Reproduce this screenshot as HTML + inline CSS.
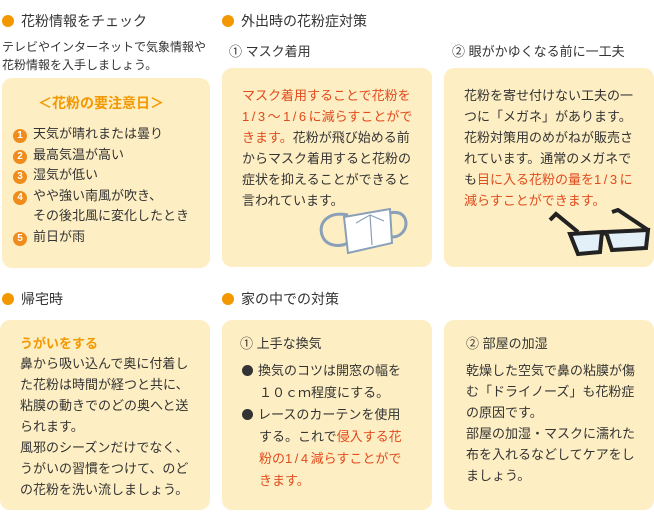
<!DOCTYPE html>
<html><head><meta charset="utf-8"><style>
*{margin:0;padding:0;box-sizing:border-box}
body{width:654px;height:520px;background:#fff;position:relative;overflow:hidden;font-family:"Liberation Sans","Noto Sans CJK JP",sans-serif;color:#333;font-size:13px}
.a{position:absolute;white-space:nowrap}
.box{position:absolute;background:#fdeec3;border-radius:10px}
.h{font-size:14px;color:#333}
.h:before{content:"";display:inline-block;width:12px;height:12px;border-radius:50%;background:#f39800;margin-right:7px;vertical-align:-1px}
.r{color:#e24a1c}
.o{color:#f39800;font-weight:bold}
.lh{line-height:21px}
.w{letter-spacing:2.5px}
.n{display:inline-block;width:14px;height:14px;border-radius:50%;background:#f08c1c;color:#fff;font-size:10px;font-weight:bold;text-align:center;line-height:14px;margin-right:6px;vertical-align:0px}
.dot{display:inline-block;width:11px;height:11px;border-radius:50%;background:#333;margin-right:5px;vertical-align:-1px}
</style></head><body>
<div class="a h" style="left:2px;top:11px">花粉情報をチェック</div>
<div class="a" style="left:2px;top:38px;font-size:12px;line-height:18px">テレビやインターネットで気象情報や<br>花粉情報を入手しましょう。</div>
<div class="box" style="left:2px;top:78px;width:208px;height:190px"></div>
<div class="a o" style="left:38px;top:93px;font-size:14px">＜花粉の要注意日＞</div>
<div class="a" style="left:13px;top:124px;line-height:20.5px">
<span class="n">1</span>天気が晴れまたは曇り<br>
<span class="n">2</span>最高気温が高い<br>
<span class="n">3</span>湿気が低い<br>
<span class="n">4</span>やや強い南風が吹き、<br>
<span style="margin-left:20px">その後北風に変化したとき</span><br>
<span class="n">5</span>前日が雨</div>

<div class="a h" style="left:222px;top:11px">外出時の花粉症対策</div>
<div class="a" style="left:229px;top:41px">① マスク着用</div>
<div class="a" style="left:452px;top:41px">② 眼がかゆくなる前に一工夫</div>
<div class="box" style="left:222px;top:68px;width:210px;height:199px"></div>
<div class="box" style="left:444px;top:68px;width:210px;height:199px"></div>
<div class="a lh" style="left:242px;top:85px"><span class="r">マスク着用することで花粉を<br><span class="w">1/3～1/6</span>に減らすことがで<br>きます。</span>花粉が飛び始める前<br>からマスク着用すると花粉の<br>症状を抑えることができると<br>言われています。</div>
<svg class="a" style="left:318px;top:203px" width="90" height="55" viewBox="0 0 90 55">
<path d="M30 12 C10 8 0 20 4 32 C8 44 22 44 30 40" fill="none" stroke="#8aa0b8" stroke-width="3"/>
<path d="M72 10 C88 6 92 22 84 30 C80 34 76 34 72 34" fill="none" stroke="#8aa0b8" stroke-width="3"/>
<path d="M26 14 L72 6 L74 40 L30 50 Z" fill="#fff" stroke="#8aa0b8" stroke-width="2"/>
<path d="M38 20 L52 12 L66 18 M52 12 L54 42" fill="none" stroke="#8aa0b8" stroke-width="1.2"/>
</svg>
<div class="a lh" style="left:464px;top:85px">花粉を寄せ付けない工夫の一<br>つに「メガネ」があります。<br>花粉対策用のめがねが販売さ<br>れています。通常のメガネで<br>も<span class="r">目に入る花粉の量を<span class="w">1/3</span>に<br>減らすことができます。</span></div>
<svg class="a" style="left:548px;top:208px" width="104" height="50" viewBox="0 0 104 50">
<path d="M2 12 L8 6 L30 24 M64 4 L70 2 L100 22" fill="none" stroke="#222" stroke-width="4"/>
<path d="M22 26 L54 24 L52 44 L30 46 Z" fill="#e4f0f8" stroke="#222" stroke-width="4"/>
<path d="M58 24 L100 22 L98 40 L64 42 Z" fill="#e4f0f8" stroke="#222" stroke-width="4"/>
<path d="M54 26 L58 26" stroke="#222" stroke-width="3"/>
</svg>

<div class="a h" style="left:2px;top:289px">帰宅時</div>
<div class="a h" style="left:222px;top:289px">家の中での対策</div>
<div class="box" style="left:0px;top:320px;width:210px;height:190px"></div>
<div class="box" style="left:222px;top:320px;width:210px;height:190px"></div>
<div class="box" style="left:444px;top:320px;width:210px;height:190px"></div>
<div class="a o" style="left:20px;top:333px">うがいをする</div>
<div class="a lh" style="left:20px;top:353px">鼻から吸い込んで奥に付着し<br>た花粉は時間が経つと共に、<br>粘膜の動きでのどの奥へと送<br>られます。<br>風邪のシーズンだけでなく、<br>うがいの習慣をつけて、のど<br>の花粉を洗い流しましょう。</div>
<div class="a" style="left:240px;top:333px">① 上手な換気</div>
<div class="a" style="left:242px;top:360px;line-height:22px"><span class="dot"></span>換気のコツは開窓の幅を<br><span style="margin-left:17px">１０ｃｍ程度にする。</span><br><span class="dot"></span>レースのカーテンを使用<br><span style="margin-left:17px">する。これで<span class="r">侵入する花</span></span><br><span class="r" style="margin-left:17px">粉の<span class="w">1/4</span>減らすことがで</span><br><span class="r" style="margin-left:17px">きます。</span></div>
<div class="a" style="left:466px;top:333px">② 部屋の加湿</div>
<div class="a lh" style="left:466px;top:360px">乾燥した空気で鼻の粘膜が傷<br>む「ドライノーズ」も花粉症<br>の原因です。<br>部屋の加湿・マスクに濡れた<br>布を入れるなどしてケアをし<br>ましょう。</div>
</body></html>
